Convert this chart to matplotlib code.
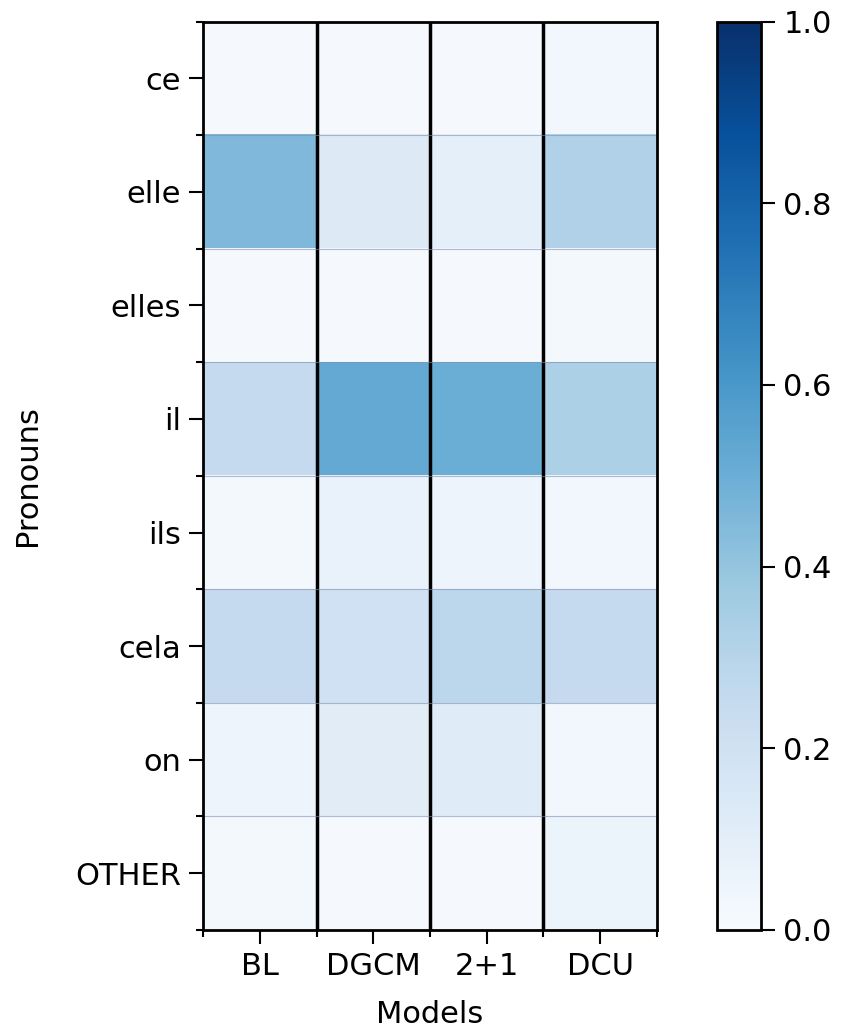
import numpy as np
import matplotlib
matplotlib.use('Agg')
import matplotlib.pyplot as plt

# ---------------------- data -------------------------
models   = ['BL', 'DGCM', '2+1', 'DCU']
pronouns = ['ce', 'elle', 'elles', 'il', 'ils', 'cela', 'on', 'OTHER']
ce    = [0.01, 0.01, 0.01, 0.03]
elle  = [0.45, 0.13, 0.09, 0.32]
elles = [0.01, 0.01, 0.01, 0.02]
il    = [0.25, 0.52, 0.50, 0.33]
ils   = [0.02, 0.07, 0.05, 0.03]
cela  = [0.25, 0.20, 0.28, 0.25]
on    = [0.05, 0.11, 0.12, 0.03]
other = [0.02, 0.01, 0.01, 0.06]
mat = np.array([ce, elle, elles, il, ils, cela, on, other])

# ---------------------- plot -------------------------
plt.rcParams['font.size'] = 22
fig = plt.figure(figsize=(8.43, 10.32), dpi=100)
ax  = fig.add_axes([0.241, 0.099, 0.538, 0.880])
cax = fig.add_axes([0.851, 0.099, 0.052, 0.880])

im = ax.imshow(mat, cmap='Blues', vmin=0, vmax=1, aspect='auto', interpolation='nearest')

ax.set_xticks(np.arange(len(models)))
ax.set_xticklabels(models)
ax.set_yticks(np.arange(len(pronouns)))
ax.set_yticklabels(pronouns)
ax.set_xticks(np.arange(-0.5, len(models), 1), minor=True)
ax.set_yticks(np.arange(-0.5, len(pronouns), 1), minor=True)
ax.tick_params(which='major', length=10, width=1.5, pad=6)
ax.tick_params(which='minor', length=5, width=1.5)

for x in np.arange(0.5, len(models) - 1, 1):
    ax.axvline(x, color='black', lw=2.5)
for y in np.arange(0.5, len(pronouns) - 1, 1):
    ax.axhline(y, color='#8090b0', lw=0.8, alpha=0.6)

for s in ax.spines.values():
    s.set_linewidth(2)
ax.set_xlabel('Models', labelpad=14)
ax.set_ylabel('Pronouns', labelpad=24)

cb = fig.colorbar(im, cax=cax)
cb.set_ticks([0.0, 0.2, 0.4, 0.6, 0.8, 1.0])
cb.outline.set_linewidth(2)
cax.tick_params(length=10, width=1.5, pad=6)

fig.savefig('out.png', dpi=100)
